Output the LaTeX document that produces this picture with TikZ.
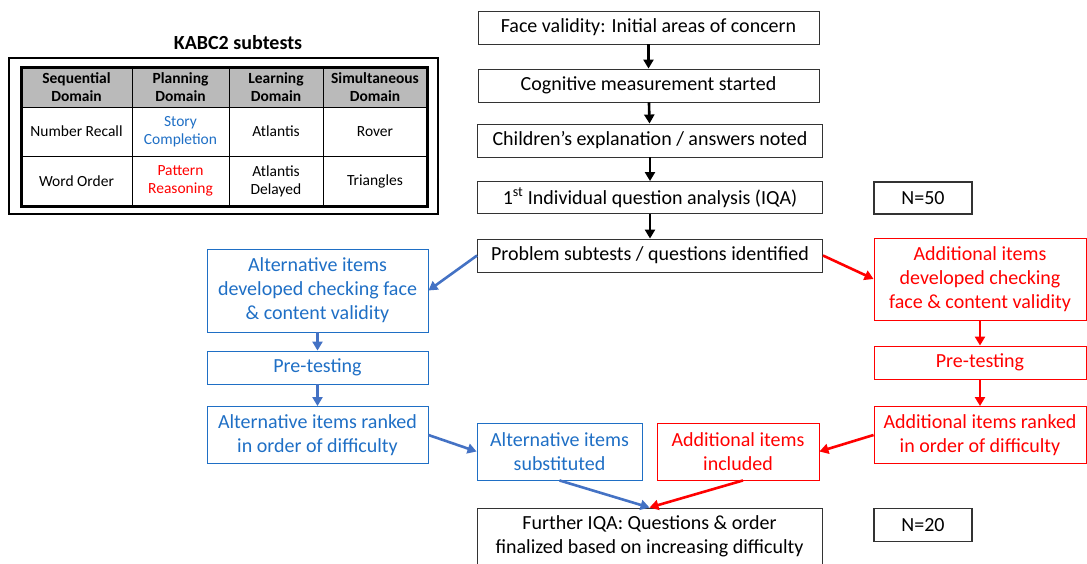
\documentclass[tikz,border=0pt]{standalone}
\usepackage{fontspec}
\setmainfont{Carlito}
\usetikzlibrary{arrows.meta}
\definecolor{txtblue}{HTML}{1F6FC5}
\definecolor{arrblue}{HTML}{4472C4}
\definecolor{txtred}{HTML}{FF0000}
\begin{document}
\begin{tikzpicture}[x=1pt,y=-1pt,
  box/.style={draw=black!80,line width=0.9pt,inner sep=2pt,align=center,
    font=\fontsize{20}{24}\selectfont},
  cell/.style={align=center,font=\fontsize{15.5}{18}\selectfont},
  head/.style={cell,font=\fontsize{15.5}{18}\selectfont\bfseries},
  blk/.style={-{Triangle[length=9pt,width=10pt]},line width=2.6pt,black},
  blu/.style={-{Triangle[length=9pt,width=10pt]},line width=2.6pt,arrblue},
  rd/.style={-{Triangle[length=9pt,width=10pt]},line width=2.6pt,txtred}]
\useasboundingbox (0,0) rectangle (1087,563);

% table of subtests
\node[font=\fontsize{20}{22}\selectfont\bfseries] (title) at (238,43) {KABC2 subtests};
\draw[line width=1.8pt] (9,58) rectangle (438,214);
\fill[black!27] (21,67) rectangle (427,107);
\draw[line width=0.8pt] (21,107) -- (427,107) (21,156) -- (427,156)
  (132,67) -- (132,206) (229,67) -- (229,206) (323,67) -- (323,206);
\draw[line width=3pt] (21,67) rectangle (427,206);
\node[head] (h1) at (76.5,87) {Sequential\\Domain};
\node[head] (h2) at (180.5,87) {Planning\\Domain};
\node[head] (h3) at (276,87) {Learning\\Domain};
\node[head] (h4) at (375,87) {Simultaneous\\Domain};
\node[cell] (c11) at (76.5,131.5) {Number Recall};
\node[cell,txtblue] (c12) at (180.5,131.5) {Story\\Completion};
\node[cell] (c13) at (276,131.5) {Atlantis};
\node[cell] (c14) at (375,131.5) {Rover};
\node[cell] (c21) at (76.5,181) {Word Order};
\node[cell,txtred] (c22) at (180.5,181) {Pattern\\Reasoning};
\node[cell] (c23) at (276,181) {Atlantis\\Delayed};
\node[cell] (c24) at (375,181) {Triangles};

% main column
\node[box,minimum width=341pt,minimum height=33pt] (face) at (648.5,27.5) {Face validity: Initial areas of concern};
\node[box,minimum width=341pt,minimum height=33pt] (cog) at (648.5,85.5) {Cognitive measurement started};
\node[box,minimum width=345pt,minimum height=33pt] (child) at (650,140.5) {Children’s explanation / answers noted};
\node[box,minimum width=345pt,minimum height=32pt] (iqa) at (650,197.5) {1\textsuperscript{st} Individual question analysis (IQA)};
\node[box,minimum width=345pt,minimum height=33pt] (prob) at (650,255.5) {Problem subtests / questions identified};
\node[box,minimum width=98pt,minimum height=32pt,line width=1.3pt] (n50) at (923,198) {N=50};

% alternative branch
\node[box,txtblue,minimum width=221pt,minimum height=83pt] (altdev) at (317.5,290.5) {Alternative items\\developed checking face\\\& content validity};
\node[box,txtblue,minimum width=221pt,minimum height=33pt] (altpre) at (317.5,367.5) {Pre-testing};
\node[box,txtblue,minimum width=221pt,minimum height=57pt] (altrank) at (317.5,435) {Alternative items ranked\\in order of difficulty};
\node[box,txtblue,minimum width=165pt,minimum height=57pt] (altsub) at (559.5,451.5) {Alternative items\\substituted};

% additional branch
\node[box,txtred,minimum width=212pt,minimum height=82pt] (adddev) at (980,279) {Additional items\\developed checking\\face \& content validity};
\node[box,txtred,minimum width=212pt,minimum height=33pt] (addpre) at (980,362.5) {Pre-testing};
\node[box,txtred,minimum width=212pt,minimum height=57pt] (addrank) at (980,435) {Additional items ranked\\in order of difficulty};
\node[box,txtred,minimum width=162pt,minimum height=57pt] (addinc) at (738,451.5) {Additional items\\included};

\node[box,minimum width=345pt,minimum height=56pt] (further) at (649.5,536) {Further IQA: Questions \& order\\finalized based on increasing difficulty};
\node[box,minimum width=98pt,minimum height=33pt,line width=1.3pt] (n20) at (923,525) {N=20};

\draw (face) edge[blk] (cog);
\draw (cog) edge[blk] (child);
\draw (child) edge[blk] (iqa);
\draw (iqa) edge[blk] (prob);
\draw (prob.west) edge[blu] (altdev.east);
\draw (altdev) edge[blu] (altpre);
\draw (altpre) edge[blu] (altrank);
\draw (altrank.east) edge[blu] (altsub.west);
\draw (altsub.south) edge[blu] (further.north);
\draw (prob.east) edge[rd] (adddev.west);
\draw (adddev) edge[rd] (addpre);
\draw (addpre) edge[rd] (addrank);
\draw (addrank.west) edge[rd] (addinc.east);
\draw ([xshift=5pt]addinc.south) edge[rd] (further.north);
\end{tikzpicture}
\end{document}
